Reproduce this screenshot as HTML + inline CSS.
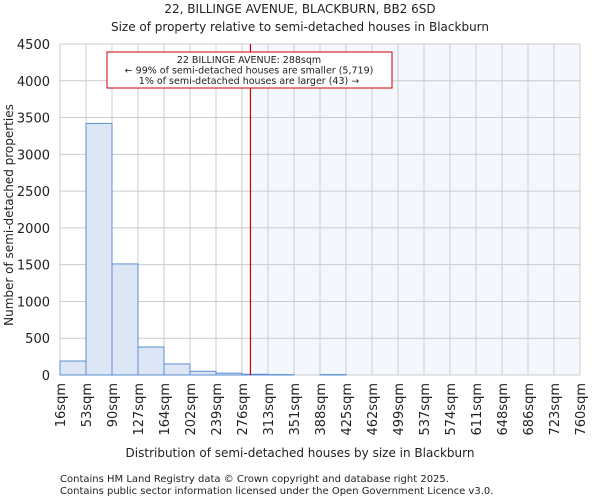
<!DOCTYPE html>
<html><head><meta charset="utf-8"><style>
body{margin:0;background:#fff;font-family:"DejaVu Sans","Liberation Sans",sans-serif;}
svg text{font-family:"DejaVu Sans","Liberation Sans",sans-serif;fill:#222;}
</style></head><body>
<svg id="c" width="600" height="500">
<text x="300" y="13" text-anchor="middle" font-size="12">22, BILLINGE AVENUE, BLACKBURN, BB2 6SD</text>
<text x="300" y="31" text-anchor="middle" font-size="12">Size of property relative to semi-detached houses in Blackburn</text>
<text x="300" y="457" text-anchor="middle" font-size="12">Distribution of semi-detached houses by size in Blackburn</text>
<text transform="translate(13,215) rotate(-90)" text-anchor="middle" font-size="12">Number of semi-detached properties</text>
<text x="60" y="482" font-size="10" fill="#444">Contains HM Land Registry data © Crown copyright and database right 2025.</text>
<text x="60" y="494" font-size="10" fill="#444">Contains public sector information licensed under the Open Government Licence v3.0.</text>
<g id="plot"></g>
</svg>
<script>
const tickLabels=["16sqm","53sqm","90sqm","127sqm","164sqm","202sqm","239sqm","276sqm","313sqm","351sqm","388sqm","425sqm","462sqm","499sqm","537sqm","574sqm","611sqm","648sqm","686sqm","723sqm","760sqm"];
const binEdges=[16,53,90,127,164,202,239,276,313,351,388,425,462,499,537,574,611,648,686,723,760];
const counts=[190,3420,1510,380,150,50,25,10,5,0,5,0,0,0,0,0,0,0,0,0];
const yTicks=[0,500,1000,1500,2000,2500,3000,3500,4000,4500];
const propertySize=288;
const L=60,R=580,T=44,B=375,yMax=4500;
const ns="http://www.w3.org/2000/svg";
const g=document.getElementById('plot');
function xIdx(i){return L+(R-L)*i/(binEdges.length-1);}
function xVal(v){for(let i=0;i<binEdges.length-1;i++){if(v<=binEdges[i+1])return xIdx(i)+(v-binEdges[i])/(binEdges[i+1]-binEdges[i])*(xIdx(i+1)-xIdx(i));}return R;}
function y(v){return B-(B-T)*v/yMax;}
function mk(t,a){const e=document.createElementNS(ns,t);for(const k in a)e.setAttribute(k,a[k]);g.appendChild(e);return e;}
const px=xVal(propertySize);
let e=mk('rect',{x:px,y:T,width:R-px,height:B-T,fill:'#f4f7fd'});


yTicks.forEach(v=>{let l=mk('line',{x1:L,x2:R,y1:y(v),y2:y(v),stroke:'#ccc','stroke-width':1});


let t=mk('text',{x:L-10,y:y(v)+5,'text-anchor':'end','font-size':13});t.textContent=v;

});
binEdges.forEach((b,i)=>{let l=mk('line',{x1:xIdx(i),x2:xIdx(i),y1:T,y2:B,stroke:'#ccc','stroke-width':1});


let t=mk('text',{transform:`translate(${xIdx(i)+5},${B+8}) rotate(-90)`,'text-anchor':'end','font-size':13});t.textContent=tickLabels[i];

});
counts.forEach((c,i)=>{if(c<=0)return;let r=mk('rect',{x:xIdx(i),y:y(c),width:xIdx(i+1)-xIdx(i),height:B-y(c),fill:'#dce6f4',stroke:'#5b8fd6','stroke-width':1});

});
let ln=mk('line',{x1:px,x2:px,y1:T,y2:B,stroke:'#cc0000','stroke-width':1.2});


let bx=mk('rect',{x:107,y:52,width:285,height:36,fill:'#fff',stroke:'#cc0000','stroke-width':1});


["22 BILLINGE AVENUE: 288sqm","← 99% of semi-detached houses are smaller (5,719)","1% of semi-detached houses are larger (43) →"].forEach((s,i)=>{let t=mk('text',{x:249,y:63+i*10.5,'text-anchor':'middle','font-size':9.5});t.textContent=s;

});
</script>
</body></html>
